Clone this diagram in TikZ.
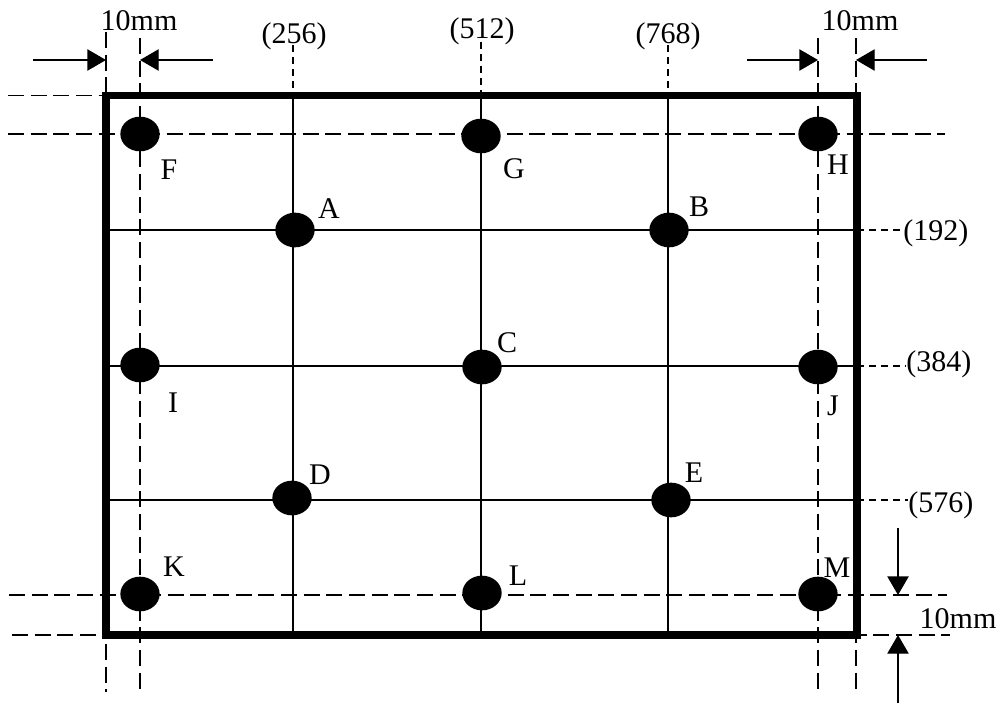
\documentclass[tikz,border=0pt]{standalone}
\usepackage{fontspec}
\setmainfont{Liberation Serif}
\usepackage{tikz}
\usetikzlibrary{shapes, arrows.meta, positioning}
\tikzstyle{frame} = [draw, line width = 5.8pt, line join = miter]
\tikzstyle{grid} = [draw, line width = 1pt]
\tikzstyle{guide} = [draw, line width = 0.9pt, dash pattern = on 12pt off 5pt]
\tikzstyle{leader} = [draw, line width = 0.9pt, dash pattern = on 5pt off 4pt]
\tikzstyle{dot} = [ellipse, fill = black, minimum width = 29.5pt, minimum height = 26pt, inner sep = 0pt]
\tikzstyle{tag} = [inner sep = 0pt, font = \fontsize{22.5pt}{27pt}\selectfont]
\tikzstyle{dim} = [draw, line width = 1pt, -{Triangle[length = 14pt, width = 16pt]}]

\begin{document}
\begin{tikzpicture}[x = 0.75pt, y = -0.75pt]
			\useasboundingbox (0, 0) rectangle (1002, 703);
			% Frame corners
			\coordinate (nw) at (106, 95.5);
			\coordinate (se) at (857, 635);
			
			% Guides 10mm inside the frame
			\path [guide] (140, 38) -- (140, 695);
			\path [guide] (818, 38) -- (818, 695);
			\path [guide] (106, 32) -- (106, 692);
			\path [guide] (856, 38) -- (856, 695);
			\path [guide] (8, 95.5) -- (106, 95.5);
			\path [guide] (8, 134) -- (945, 134);
			\path [guide] (9, 595) -- (947, 595);
			\path [guide] (12, 635) -- (950, 635);
			
			% Grid
			\path [grid] (293, 95.5) -- (293, 635);
			\path [grid] (481, 95.5) -- (481, 635);
			\path [grid] (668, 95.5) -- (668, 635);
			\path [grid] (106, 230) -- (857, 230);
			\path [grid] (106, 366) -- (857, 366);
			\path [grid] (106, 500) -- (857, 500);
			
			% Scale marks
			\node [tag] (x256) at (294, 36) {(256)};
			\node [tag] (x512) at (482, 31) {(512)};
			\node [tag] (x768) at (668, 36) {(768)};
			\node [tag, anchor = west] (y192) at (903, 233) {(192)};
			\node [tag, anchor = west] (y384) at (906, 364) {(384)};
			\node [tag, anchor = west] (y576) at (908, 505) {(576)};
			\path [leader] (293, 45) -- (293, 95.5);
			\path [leader] (481, 42) -- (481, 95.5);
			\path [leader] (668, 45) -- (668, 95.5);
			\path [leader] (857, 230) -- (y192.west |- 0, 230);
			\path [leader] (857, 366) -- (y384.west |- 0, 366);
			\path [leader] (857, 500) -- (y576.west |- 0, 500);
			
			\path [frame] (nw) rectangle (se);
			
			% Place dots
			\node [dot] (F) at (140, 134) {};
			\node [dot] (G) at (481, 136) {};
			\node [dot] (H) at (818, 134) {};
			\node [dot] (A) at (295, 230) {};
			\node [dot] (B) at (669, 230) {};
			\node [dot] (I) at (140, 365) {};
			\node [dot] (C) at (482, 367) {};
			\node [dot] (J) at (818, 367) {};
			\node [dot] (D) at (292, 498) {};
			\node [dot] (E) at (671, 500) {};
			\node [dot] (K) at (140, 594) {};
			\node [dot] (L) at (482, 593) {};
			\node [dot] (M) at (818, 594) {};
			
			% Dot names
			\node [tag] (tF) at (169, 170) {F};
			\node [tag] (tG) at (514, 169) {G};
			\node [tag] (tH) at (838, 165) {H};
			\node [tag] (tA) at (329, 209) {A};
			\node [tag] (tB) at (699, 207) {B};
			\node [tag] (tI) at (173, 403) {I};
			\node [tag] (tC) at (507, 343) {C};
			\node [tag] (tJ) at (833, 406) {J};
			\node [tag] (tD) at (320, 475) {D};
			\node [tag] (tE) at (694, 473) {E};
			\node [tag] (tK) at (174, 567) {K};
			\node [tag] (tL) at (518, 576) {L};
			\node [tag] (tM) at (837, 568) {M};
			
			% Dimensions
			\node [tag] (mm1) at (139, 21) {10mm};
			\node [tag] (mm2) at (860, 21) {10mm};
			\node [tag] (mm3) at (958, 619) {10mm};
			\coordinate (a1) at (33, 60);
			\coordinate (b1) at (106, 60);
			\coordinate (a2) at (213, 60);
			\coordinate (b2) at (140, 60);
			\coordinate (a3) at (747, 60);
			\coordinate (b3) at (818, 60);
			\coordinate (a4) at (927, 60);
			\coordinate (b4) at (856, 60);
			\coordinate (a5) at (898, 528);
			\coordinate (b5) at (898, 595);
			\coordinate (a6) at (898, 703);
			\coordinate (b6) at (898, 635);
			\path [dim] (a1) -- (b1);
			\path [dim] (a2) -- (b2);
			\path [dim] (a3) -- (b3);
			\path [dim] (a4) -- (b4);
			\path [dim] (a5) -- (b5);
			\path [dim] (a6) -- (b6);
		\end{tikzpicture}
\end{document}
